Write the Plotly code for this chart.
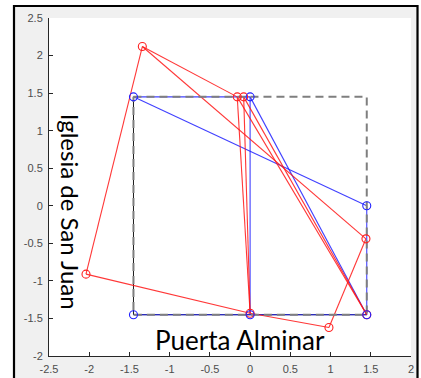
import plotly.graph_objects as go

# ---------------- data ----------------
# reference square (grey dashed)
sq_x = [-1.45, 1.45, 1.45, -1.45, -1.45]
sq_y = [1.45, 1.45, -1.45, -1.45, 1.45]

# black solid outline
blk_x = [-1.45, -1.45, 1.45]
blk_y = [1.45, -1.45, -1.45]

# blue (nominal) points and edges
blue_x = [-1.45, 0.0, 1.45, 1.45, 0.0, -1.45]
blue_y = [1.45, 1.45, 0.0, -1.45, -1.45, -1.45]
blue_edges = [(0, 1), (0, 2), (1, 3), (1, 4), (2, 3), (3, 4), (4, 5)]

# red (measured) points and edges
red_x = [-1.34, -0.16, -0.08, 1.44, 1.45, 0.0, -2.04, 0.98]
red_y = [2.12, 1.45, 1.45, -0.44, -1.45, -1.43, -0.91, -1.62]
red_edges = [(0, 6), (0, 1), (0, 3), (1, 5), (2, 5), (2, 4), (1, 4),
             (6, 5), (5, 7), (7, 3)]

x_ticks = [-2.5, -2, -1.5, -1, -0.5, 0, 0.5, 1, 1.5, 2]
x_tick_text = ["-2.5", "-2", "-1.5", "-1", "-0.5", "0", "0.5", "1", "1.5", "2"]
y_ticks = [-2, -1.5, -1, -0.5, 0, 0.5, 1, 1.5, 2, 2.5]
y_tick_text = ["-2", "-1.5", "-1", "-0.5", "0", "0.5", "1", "1.5", "2", "2.5"]

label_x_text = "Puerta Alminar"
label_y_text = "Iglesia de San Juan"


def edges_to_xy(px, py, edges):
    xs, ys = [], []
    for a, b in edges:
        xs += [px[a], px[b], None]
        ys += [py[a], py[b], None]
    return xs, ys


fig = go.Figure()

fig.add_trace(go.Scatter(x=blk_x, y=blk_y, mode="lines",
                         line=dict(color="#1a1a1a", width=1), hoverinfo="skip"))

bx, by = edges_to_xy(blue_x, blue_y, blue_edges)
fig.add_trace(go.Scatter(x=bx, y=by, mode="lines",
                         line=dict(color="rgba(30,30,255,0.85)", width=1.1), hoverinfo="skip"))

rx, ry = edges_to_xy(red_x, red_y, red_edges)
fig.add_trace(go.Scatter(x=rx, y=ry, mode="lines",
                         line=dict(color="rgba(255,20,20,0.85)", width=1.1), hoverinfo="skip"))

fig.add_trace(go.Scatter(x=sq_x, y=sq_y, mode="lines",
                         line=dict(color="#7f7f7f", width=2, dash="8px,5px"), hoverinfo="skip"))

fig.add_trace(go.Scatter(x=red_x, y=red_y, mode="markers",
                         marker=dict(symbol="circle-open", size=8, color="#ff2020",
                                     line=dict(width=1.1)), hoverinfo="skip"))
fig.add_trace(go.Scatter(x=blue_x, y=blue_y, mode="markers",
                         marker=dict(symbol="circle-open", size=8, color="#2020ff",
                                     line=dict(width=1.1)), hoverinfo="skip"))

# figure frame geometry (paper coordinates)
PL, PR, PT, PB = 49, 411, 18, 356
W, H = 421, 378


def px2paper_x(p):
    return (p - PL) / (PR - PL)


def px2paper_y(p):
    return (PB - p) / (PB - PT)


shapes = [
    # white outside region (left, top, right)
    dict(type="rect", xref="paper", yref="paper", layer="below",
         x0=px2paper_x(-5), x1=px2paper_x(13), y0=px2paper_y(400), y1=px2paper_y(-5),
         fillcolor="white", line=dict(width=0)),
    dict(type="rect", xref="paper", yref="paper", layer="below",
         x0=px2paper_x(-5), x1=px2paper_x(430), y0=px2paper_y(5), y1=px2paper_y(-5),
         fillcolor="white", line=dict(width=0)),
    dict(type="rect", xref="paper", yref="paper", layer="below",
         x0=px2paper_x(419), x1=px2paper_x(430), y0=px2paper_y(400), y1=px2paper_y(-5),
         fillcolor="white", line=dict(width=0)),
    # black frame
    dict(type="rect", xref="paper", yref="paper", layer="below",
         x0=px2paper_x(14), x1=px2paper_x(417.5), y0=px2paper_y(420), y1=px2paper_y(6),
         line=dict(color="black", width=2.2), fillcolor="rgba(0,0,0,0)"),
]

fig.update_layout(
    width=W, height=H,
    autosize=False,
    margin=dict(l=PL, r=W - PR, t=PT, b=H - PB, autoexpand=False),
    paper_bgcolor="#f0f0f0", plot_bgcolor="white",
    showlegend=False,
    shapes=shapes,
    font=dict(family="Liberation Sans, Arial, sans-serif", size=11, color="#4d4d4d"),
    xaxis=dict(range=[-2.5, 2], tickvals=x_ticks, ticktext=x_tick_text,
               showgrid=False, zeroline=False, showline=True, linecolor="#262626",
               linewidth=1, ticks="inside", ticklen=4, tickcolor="#262626",
               mirror=False, fixedrange=True, ticklabelstandoff=3, automargin=False),
    yaxis=dict(range=[-2, 2.5], tickvals=y_ticks, ticktext=y_tick_text,
               showgrid=False, zeroline=False, showline=True, linecolor="#262626",
               linewidth=1, ticks="inside", ticklen=4, tickcolor="#262626",
               mirror=False, fixedrange=True, ticklabelstandoff=3, automargin=False),
    annotations=[
        dict(x=-0.12, y=-1.79, xref="x", yref="y", text=label_x_text, showarrow=False,
             font=dict(family="Lato, sans-serif", size=26, color="black"),
             xanchor="center", yanchor="middle"),
        dict(x=-2.24, y=-0.08, xref="x", yref="y", text=label_y_text, showarrow=False,
             textangle=90,
             font=dict(family="Lato, sans-serif", size=24, color="black"),
             xanchor="center", yanchor="middle"),
    ],
)

fig.write_html("out.html")
